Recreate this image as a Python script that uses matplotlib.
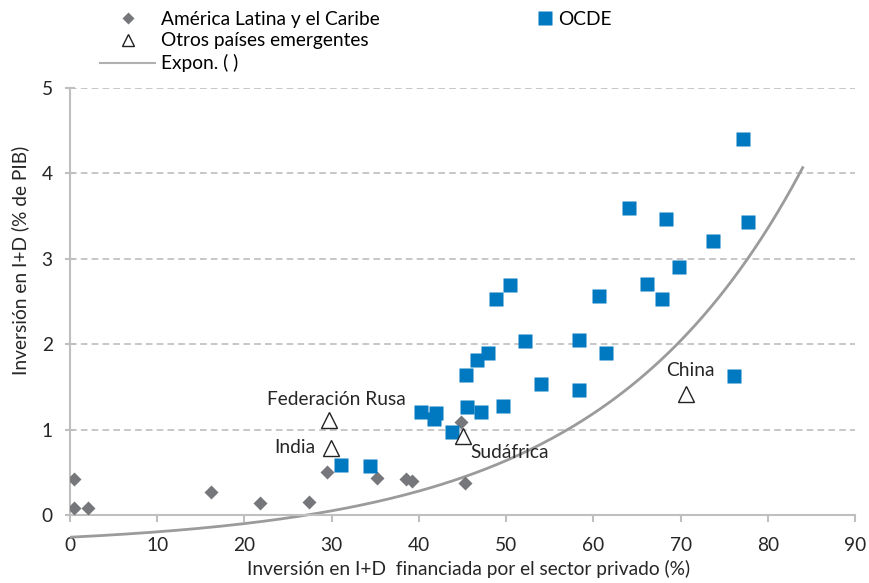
import numpy as np
import matplotlib.pyplot as plt
from matplotlib.lines import Line2D

plt.rcParams["font.family"] = ["Lato", "DejaVu Sans"]

# América Latina y el Caribe
alc_x = [0.5, 0.5, 2.1, 16.2, 21.8, 27.4, 29.5, 35.2, 38.5, 39.2, 45.3, 44.8]
alc_y = [0.42, 0.08, 0.08, 0.27, 0.14, 0.15, 0.50, 0.43, 0.42, 0.40, 0.37, 1.09]

# OCDE
ocde_x = [77.2, 64.1, 68.3, 77.7, 73.7, 69.8, 66.2, 67.9, 60.6, 50.4, 48.8,
          52.2, 58.4, 61.4, 47.9, 46.7, 45.4, 54.0, 58.4, 76.1, 49.6, 45.5,
          47.1, 40.2, 42.0, 41.7, 43.8, 31.1, 34.4]
ocde_y = [4.40, 3.60, 3.47, 3.43, 3.21, 2.90, 2.70, 2.53, 2.56, 2.69, 2.53,
          2.04, 2.05, 1.90, 1.90, 1.81, 1.64, 1.53, 1.46, 1.63, 1.28, 1.27,
          1.21, 1.21, 1.19, 1.12, 0.97, 0.59, 0.57]

# Otros países emergentes
otros_names = ["Federación Rusa", "India", "Sudáfrica", "China"]
otros_x = [29.7, 29.9, 45.0, 70.6]
otros_y = [1.11, 0.78, 0.93, 1.42]

# exponential trend (y = a*exp(b*x) + c)
trend_a, trend_b, trend_c = 0.115, 0.0435, -0.375
trend_x_end = 84.0

blue = "#0079c1"
grey = "#76777b"
txt = "#262626"
fs = 13.8

fig = plt.figure(figsize=(8.69, 5.83), dpi=100)
ax = fig.add_axes([0.0806, 0.0727, 0.9033, 0.7763])

ax.set_xlim(0, 90)
ax.set_ylim(-0.3, 5)

tx = np.linspace(0, trend_x_end, 200)
ax.plot(tx, trend_a * np.exp(trend_b * tx) + trend_c, color="#9b9b9b", lw=2, zorder=2)

ax.plot(alc_x, alc_y, "D", color=grey, ms=7.5, mec="none", zorder=3)
ax.plot(ocde_x, ocde_y, "s", color=blue, ms=10, mec="none", zorder=4)
ax.plot(otros_x, otros_y, "^", mfc="white", mec="#222222", mew=1, ms=11, zorder=5)

# labels for the emerging countries
ax.text(30.5, 1.35, "Federación Rusa", ha="center", va="center", fontsize=fs, color=txt)
ax.text(28.1, 0.79, "India", ha="right", va="center", fontsize=fs, color=txt)
ax.text(45.9, 0.73, "Sudáfrica", ha="left", va="center", fontsize=fs, color=txt)
ax.text(71.1, 1.69, "China", ha="center", va="center", fontsize=fs, color=txt)

for v in [1, 2, 3, 4, 5]:
    ax.axhline(v, color="#bdbdbd", lw=1.2, ls=(0, (4, 2.5)), zorder=1)

for s in ["top", "right"]:
    ax.spines[s].set_visible(False)
ax.spines["bottom"].set_position(("data", 0))
ax.spines["left"].set_bounds(0, 5)
for s in ["bottom", "left"]:
    ax.spines[s].set_color("#bfbfbf")
    ax.spines[s].set_linewidth(1.5)

ax.set_xticks(range(0, 91, 10))
ax.set_yticks(range(0, 6))
ax.tick_params(axis="x", direction="out", length=5, width=1.5, color="#bfbfbf",
               pad=11, labelsize=fs, labelcolor=txt)
ax.tick_params(axis="y", direction="inout", length=7, width=1.5, color="#bfbfbf",
               pad=9, labelsize=fs, labelcolor=txt)

fig.text(0.023, 0.554, "Inversión en I+D (% de PIB)", rotation=90, ha="center",
         va="center", fontsize=fs, color=txt)
fig.text(0.539, 0.024, "Inversión en I+D  financiada por el sector privado (%)",
         ha="center", va="center", fontsize=fs, color=txt)

h_alc = Line2D([], [], marker="D", ls="none", color=grey, ms=6, mec="none")
h_otros = Line2D([], [], marker="^", ls="none", mfc="white", mec="#222222", ms=9)
h_trend = Line2D([], [], color="#b0b0b0", lw=1.5)
h_ocde = Line2D([], [], marker="s", ls="none", color=blue, ms=10, mec="none")

fig.legend([h_alc, h_otros, h_trend],
           ["América Latina y el Caribe", "Otros países emergentes", "Expon. ( )"],
           loc="upper left", bbox_to_anchor=(0.106, 0.995), frameon=False,
           fontsize=fs, handlelength=2.9, handletextpad=0.3, labelspacing=0.25,
           borderaxespad=0)
fig.legend([h_ocde], ["OCDE"], loc="upper left", bbox_to_anchor=(0.6075, 0.995),
           frameon=False, fontsize=fs, handlelength=1.0, handletextpad=0.2,
           borderaxespad=0)

fig.savefig("out.png", dpi=100)
